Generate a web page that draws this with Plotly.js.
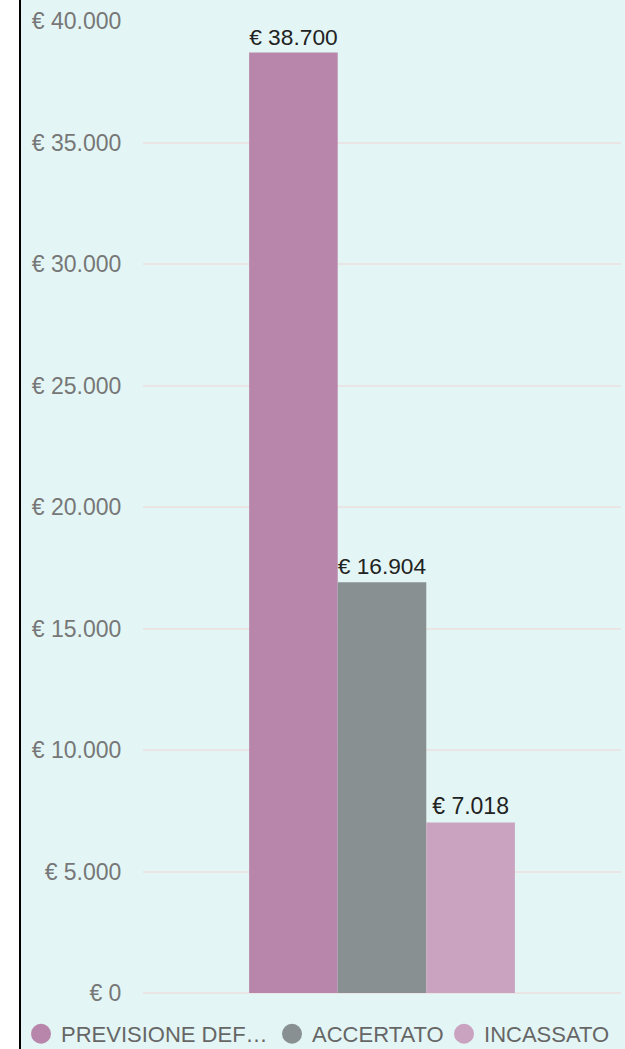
<!DOCTYPE html>
<html>
<head>
<meta charset="utf-8">
<script src="https://cdn.plot.ly/plotly-3.0.1.min.js"></script>
<style>
  html, body { margin: 0; padding: 0; background: #ffffff; overflow: hidden; }
  #wrap { position: absolute; left: 19px; top: 0; width: 604px; height: 1049px; border-left: 2px solid #000; }
  #chart { width: 604px; height: 1049px; }
</style>
</head>
<body>
<div id="wrap"><div id="chart"></div></div>
<script>
const category = [""];
const seriesNames = ["PREVISIONE DEF…", "ACCERTATO", "INCASSATO"];
const seriesValues = [[38700], [16904], [7018]];
const seriesColors = ["#B886AB", "#899092", "#C9A3C0"];
const legendWidths = [206, 127, 130];
const yTickValues = [0, 5000, 10000, 15000, 20000, 25000, 30000, 35000, 40000];
const yTickLabels = ["€ 0", "€ 5.000", "€ 10.000", "€ 15.000", "€ 20.000", "€ 25.000", "€ 30.000", "€ 35.000", "€ 40.000"];

const traces = [];
seriesNames.forEach((name, i) => {
  traces.push({
    type: "bar",
    x: category,
    y: seriesValues[i],
    name: name,
    legendgroup: "g" + i,
    showlegend: false,
    marker: { color: seriesColors[i] },
    texttemplate: "€ %{y:,.0f}",
    textposition: "outside",
    textfont: { family: "Liberation Sans, Arial, sans-serif", size: 23, color: "#222222" },
    cliponaxis: false,
    hoverinfo: "skip"
  });
});
seriesNames.forEach((name, i) => {
  traces.push({
    type: "scatter",
    mode: "markers",
    x: [null],
    y: [null],
    name: name,
    legendgroup: "g" + i,
    legendwidth: legendWidths[i],
    showlegend: true,
    marker: { color: seriesColors[i], size: 16, symbol: "circle", line: { color: seriesColors[i], width: 4 } },
    hoverinfo: "skip"
  });
});

const layout = {
  width: 604,
  height: 1049,
  paper_bgcolor: "#E3F6F5",
  plot_bgcolor: "#E3F6F5",
  separators: ",.",
  margin: { l: 122, r: 4, t: 21, b: 56, autoexpand: false },
  barmode: "group",
  bargap: 0.444,
  bargroupgap: 0,
  hovermode: false,
  showlegend: true,
  xaxis: {
    showticklabels: false,
    showgrid: false,
    zeroline: false,
    showline: false,
    ticks: ""
  },
  yaxis: {
    range: [0, 40000],
    tickmode: "array",
    tickvals: yTickValues,
    ticktext: yTickLabels,
    showgrid: true,
    gridcolor: "#E9E5E5",
    gridwidth: 2,
    zeroline: true,
    zerolinecolor: "#E9E5E5",
    zerolinewidth: 2,
    showline: false,
    ticks: "outside",
    ticklen: 16,
    tickcolor: "rgba(0,0,0,0)",
    tickfont: { family: "Liberation Sans, Arial, sans-serif", size: 23, color: "#777777" }
  },
  legend: {
    orientation: "h",
    x: -0.2552,
    xanchor: "left",
    y: -0.0205,
    yanchor: "top",
    bgcolor: "rgba(0,0,0,0)",
    borderwidth: 0,
    font: { family: "Liberation Sans, Arial, sans-serif", size: 22, color: "#666666" },
    itemclick: false,
    itemdoubleclick: false
  }
};

Plotly.newPlot("chart", traces, layout, { displayModeBar: false, staticPlot: true });
</script>
</body>
</html>
